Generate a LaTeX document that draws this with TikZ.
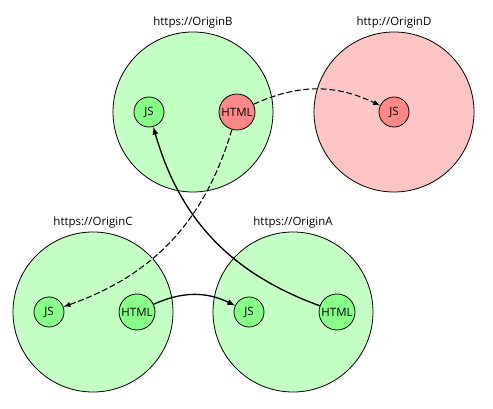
\documentclass[tikz,border=0pt]{standalone}
\usepackage{fontspec}
\setmainfont{Open Sans}
\usetikzlibrary{positioning,arrows}
\definecolor{originGreen}{RGB}{196,255,196}
\definecolor{originRed}{RGB}{255,196,196}
\definecolor{nodeGreen}{RGB}{136,255,136}
\definecolor{nodeRed}{RGB}{255,136,136}
\tikzstyle{origin graph}=[
    x=0.75pt,y=-0.75pt,
    ->,>=latex,
    every node/.style={
        font=\fontsize{8.6}{10}\selectfont,
        inner sep=0pt,
    },
    origin/.style={
        circle, draw, line width=0.6pt, fill=originGreen,
        minimum size=120pt,
    },
    script/.style={
        circle, draw, line width=0.6pt, fill=nodeGreen,
        minimum size=22.5pt,
    },
    page/.style={script, minimum size=27pt},
    framed/.style={preaction={draw=white}, dash pattern=on 4.5pt off 2pt, line width=0.8pt},
    link/.style={line width=1pt},
]

\begin{document}
\begin{tikzpicture}[origin graph]
        \useasboundingbox (0,0) rectangle (493,409);
        % origins
        \node[origin, label={[label distance=2.5pt]above:{https://OriginB}}] (B) at (193,112) {};
        \node[origin, fill=originRed, label={[label distance=2.5pt]above:{http://OriginD}}] (D) at (394,112) {};
        \node[origin, label={[label distance=2.5pt]above:{https://OriginC}}] (C) at (93,312) {};
        \node[origin, label={[label distance=2.5pt]above:{https://OriginA}}] (A) at (293,312) {};

        % documents and scripts
        \node[script] (B-js) at ([xshift=-33pt]B.center) {JS};
        \node[page, fill=nodeRed] (B-html) at ([xshift=33pt]B.center) {HTML};
        \node[script, fill=nodeRed] (D-js) at (D.center) {JS};
        \node[script] (C-js) at ([xshift=-33pt]C.center) {JS};
        \node[page] (C-html) at ([xshift=33pt]C.center) {HTML};
        \node[script] (A-js) at ([xshift=-33pt]A.center) {JS};
        \node[page] (A-html) at ([xshift=33pt]A.center) {HTML};

        \path
            (B-html) edge[link, framed, bend left=25] (D-js)
            (B-html) edge[link, framed, bend left=27] (C-js)
            (C-html) edge[link, bend left=25] (A-js)
            (A-html) edge[link, bend left=27] (B-js)
        ;
    \end{tikzpicture}
\end{document}
